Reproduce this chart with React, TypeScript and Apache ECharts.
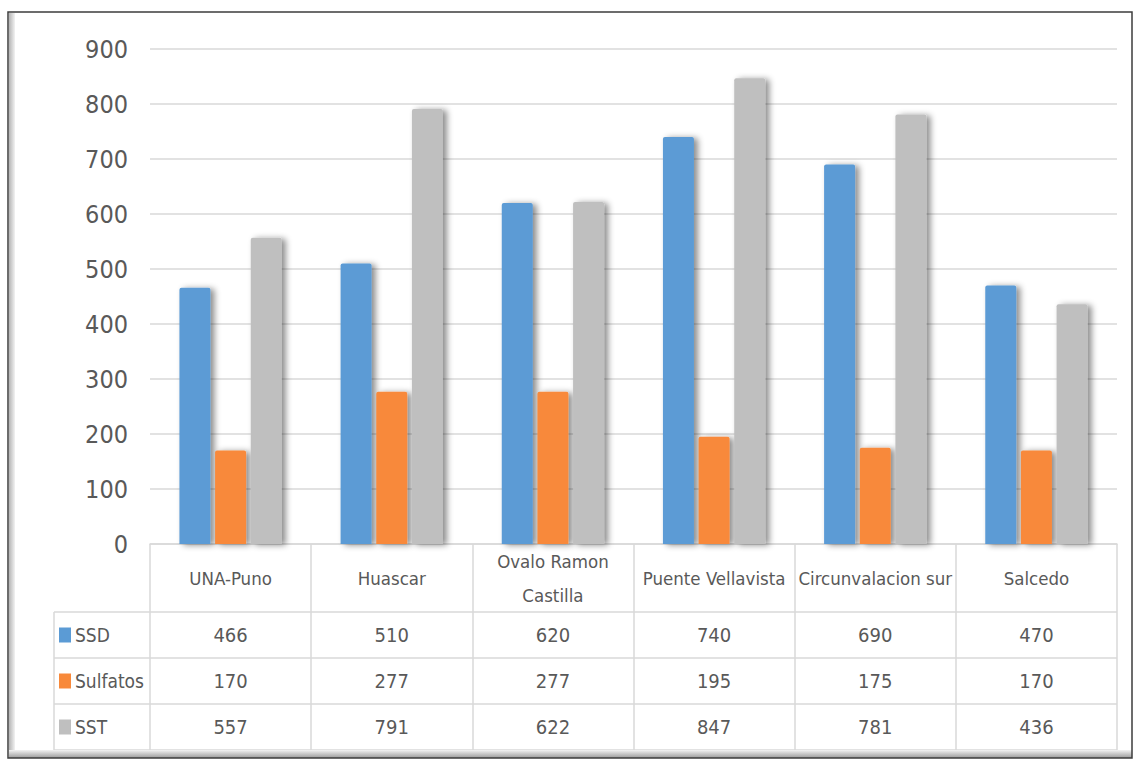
import { useEffect, useRef } from "react";
import * as echarts from "echarts";

// Sampling sites (header row of the data table)
const categories = [
  "UNA-Puno",
  "Huascar",
  "Ovalo Ramon\nCastilla",
  "Puente Vellavista",
  "Circunvalacion sur",
  "Salcedo",
];
const seriesNames = ["SSD", "Sulfatos", "SST"];
const ssd = [466, 510, 620, 740, 690, 470];
const sulfatos = [170, 277, 277, 195, 175, 170];
const sst = [557, 791, 622, 847, 781, 436];
const yMin = 0;
const yMax = 900;
const yStep = 100;

const colors = ["#5B9BD5", "#F8893A", "#BFBFBF"];
const textColor = "#595959";
const lineColor = "#d9d9d9";
const font = "'DejaVu Sans Condensed', 'Liberation Sans', sans-serif";

// Page layout
const W = 1134;
const H = 765;
const gridLeft = 150;
const gridRight = 17;
const gridTop = 49;
const gridBottom = 221;
const headerH = 68;
const rowH = 46;
const legendColX = 54;
const tableFont = 19;

export default function App() {
  const ref = useRef<HTMLDivElement>(null);

  useEffect(() => {
    if (!ref.current) return;
    const chart = echarts.init(ref.current, undefined, { renderer: "svg" });
    const rows = [ssd, sulfatos, sst];
    const axisY = H - gridBottom;
    const tableRight = W - gridRight;

    const tableLines: any[] = [];
    for (let i = 0; i <= rows.length; i++) {
      const y = axisY + headerH + i * rowH;
      tableLines.push({
        type: "line",
        shape: { x1: legendColX, y1: y, x2: tableRight, y2: y },
        style: { stroke: lineColor, lineWidth: 1.5 },
      });
    }
    tableLines.push({
      type: "line",
      shape: { x1: legendColX, y1: axisY + headerH, x2: legendColX, y2: axisY + headerH + rows.length * rowH },
      style: { stroke: lineColor, lineWidth: 1.5 },
    });

    chart.setOption({
      animation: false,
      backgroundColor: "#ffffff",
      color: colors,
      grid: { left: gridLeft, right: gridRight, top: gridTop, bottom: gridBottom },
      legend: {
        orient: "vertical",
        left: 59,
        top: axisY + headerH + (rowH - tableFont) / 2,
        itemWidth: 12,
        itemHeight: 15,
        itemGap: rowH - tableFont,
        icon: "rect",
        padding: 0,
        selectedMode: false,
        data: seriesNames,
        textStyle: { fontSize: tableFont, lineHeight: tableFont, color: textColor, fontFamily: font, padding: [0, 0, 0, -1] },
      },
      xAxis: [
        {
          type: "category",
          data: categories,
          axisLine: { lineStyle: { color: lineColor, width: 1.5 } },
          axisTick: {
            show: true,
            length: headerH + rows.length * rowH,
            lineStyle: { color: lineColor, width: 1.5 },
          },
          axisLabel: {
            interval: 0,
            margin: headerH / 2,
            verticalAlign: "middle",
            lineHeight: 34,
            fontSize: 18.5,
            color: textColor,
            fontFamily: font,
          },
        },
        ...rows.map((vals, i) => ({
          type: "category",
          data: categories,
          position: "bottom",
          offset: headerH + i * rowH,
          axisLine: { show: false },
          axisTick: { show: false },
          axisLabel: {
            interval: 0,
            margin: rowH / 2,
            verticalAlign: "middle",
            fontSize: tableFont + 1,
            color: textColor,
            fontFamily: font,
            formatter: (_v: string, idx: number) => String(vals[idx]),
          },
        })),
      ],
      yAxis: {
        type: "value",
        min: yMin,
        max: yMax,
        interval: yStep,
        axisLine: { show: false },
        axisTick: { show: false },
        splitLine: { lineStyle: { color: lineColor, width: 1.5 } },
        axisLabel: { fontSize: 25, color: textColor, fontFamily: font, margin: 22 },
      },
      series: rows.map((vals, i) => ({
        name: seriesNames[i],
        type: "bar",
        data: vals,
        barWidth: 31,
        barGap: "15%",
        itemStyle: {
          color: colors[i],
          borderRadius: [2, 2, 0, 0],
          shadowColor: "rgba(0,0,0,0.45)",
          shadowBlur: 6,
          shadowOffsetX: 4,
          shadowOffsetY: 1,
        },
      })),
      graphic: [
        ...tableLines,
        // outer frame with soft inner edge on the left and bottom
        {
          type: "rect",
          shape: { x: 9, y: 13, width: 6, height: 742 },
          style: {
            fill: new echarts.graphic.LinearGradient(0, 0, 1, 0, [
              { offset: 0, color: "#b5b5b5" },
              { offset: 1, color: "#f2f2f2" },
            ]),
          },
          silent: true,
        },
        {
          type: "rect",
          shape: { x: 9, y: 750, width: 1123, height: 8 },
          style: {
            fill: new echarts.graphic.LinearGradient(0, 0, 0, 1, [
              { offset: 0, color: "#f2f2f2" },
              { offset: 1, color: "#9a9a9a" },
            ]),
          },
          silent: true,
        },
        {
          type: "rect",
          shape: { x: 8, y: 12, width: 1124, height: 746 },
          style: { fill: "none", stroke: "#3d3d3d", lineWidth: 1.5 },
          silent: true,
        },
      ],
    });
    return () => chart.dispose();
  }, []);

  return (
    <div
      ref={ref}
      style={{ position: "fixed", left: 0, top: 0, width: W, height: H, background: "#fff" }}
    />
  );
}
